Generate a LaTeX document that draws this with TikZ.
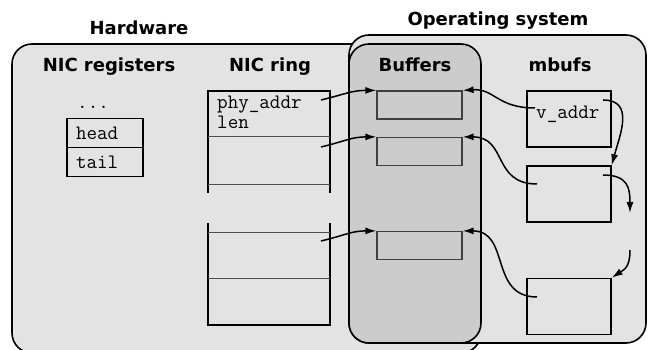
\documentclass[tikz,border=0pt]{standalone}
\usepackage{fontspec}
\setsansfont{DejaVu Sans}
\usetikzlibrary{arrows.meta}

\definecolor{regiongray}{gray}{0.89}
\definecolor{bufgray}{gray}{0.80}

\tikzset{
  title/.style={font=\sffamily\bfseries\fontsize{18}{20}\selectfont, anchor=base},
  code/.style={font=\ttfamily\fontsize{20.5}{22}\selectfont, anchor=base west, inner sep=0pt},
  region/.style={draw, line width=1.6pt, rounded corners=20pt},
  regbox/.style={draw, line width=1.5pt, font=\ttfamily\fontsize{20.5}{22}\selectfont,
    minimum width=76pt, minimum height=29pt, text width=58pt, inner xsep=9pt, inner ysep=0pt, align=left},
  bufbox/.style={draw=black!75, line width=1.2pt, minimum width=85pt, minimum height=28pt, inner sep=0pt},
  mbufbox/.style={draw, line width=1.5pt, minimum width=84pt, minimum height=56pt, inner sep=0pt},
  ptr/.style={line width=1.5pt, -{Latex[length=11pt,width=7pt]}},
}

\begin{document}
\begin{tikzpicture}[x=1pt, y=-1pt]
\clip (0,0) rectangle (651,350);

% the two areas, buffers sit where they overlap
\draw [region, fill=regiongray] (12,44) rectangle (481,353);
\draw [region, fill=regiongray] (349,35) rectangle (646,343);
\draw [region, fill=bufgray] (349,44) rectangle (481,343);

\node [title] (hw) at (139,35) {Hardware};
\node [title] (os) at (498,26) {Operating system};
\node [title] (regs) at (109,72) {NIC registers};
\node [title] (ring) at (270,72) {NIC ring};
\node [title] (bufs) at (415,72) {Buffers};
\node [title] (mbufs) at (560,72) {mbufs};

% NIC registers
\node [code] (dots) at (77,109) {...};
\node [regbox] (head) at (105,133) {head};
\node [regbox] (tail) at (105,162) {tail};

% NIC ring, two pieces of it
\draw [line width=1.5pt] (208,193) -- (208,91) -- (330,91) -- (330,193);
\draw [line width=1pt, black!70] (208,137) -- (330,137);
\draw [line width=1pt, black!70] (208,185) -- (330,185);
\draw [line width=1.5pt] (208,223) -- (208,325) -- (330,325) -- (330,223);
\draw [line width=1pt, black!70] (208,232) -- (330,232);
\draw [line width=1pt, black!70] (208,278) -- (330,278);
\node [code] (phy) at (217,108.5) {phy\_addr};
\node [code] (len) at (217,129) {len};
\coordinate (desc1) at (321,100);
\coordinate (desc2) at (321,147);
\coordinate (desc3) at (321,241);

% buffers
\node [bufbox] (buf1) at (419.5,105) {};
\node [bufbox] (buf2) at (419.5,151.5) {};
\node [bufbox] (buf3) at (419.5,245.5) {};

% mbufs
\node [mbufbox] (mbuf1) at (569,119) {};
\node [mbufbox] (mbuf2) at (569,194) {};
\node [mbufbox] (mbuf3) at (569,306.5) {};
\node [code] (vaddr) at (536,119) {v\_addr};
\coordinate (data1) at (535,108);
\coordinate (data2) at (537,184);
\coordinate (data3) at (537,297);
\coordinate (next1) at (603,100);
\coordinate (next2) at (603,175);
\coordinate (cut1) at (630,213);
\coordinate (cut2) at (630,250);

% ring -> buffers
\draw [ptr] (desc1) .. controls +(25,-6) and +(-25,0) .. (buf1.north west);
\draw [ptr] (desc2) .. controls +(25,-6) and +(-25,0) .. (buf2.north west);
\draw [ptr] (desc3) .. controls +(25,-6) and +(-25,0) .. (buf3.north west);

% mbufs -> buffers
\draw [ptr] (data1) .. controls +(-38,0) and +(32,-2) .. (buf1.north east);
\draw [ptr] (data2) .. controls +(-45,0) and +(45,0) .. (buf2.north east);
\draw [ptr] (data3) .. controls +(-48,0) and +(48,0) .. (buf3.north east);

% mbuf chain
\draw [ptr] (next1) .. controls +(32,0) and +(8,-30) .. (mbuf2.north east);
\draw [ptr] (next2) .. controls +(25,0) and +(0,-25) .. (cut1);
\draw [ptr] (cut2) .. controls +(0,18) and +(12,-8) .. (mbuf3.north east);
\end{tikzpicture}
\end{document}
